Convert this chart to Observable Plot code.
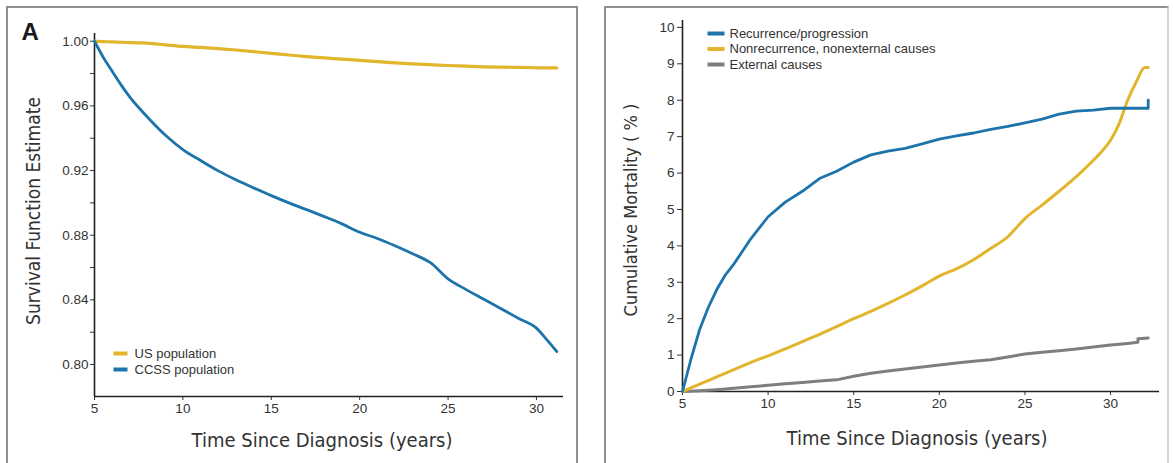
<!DOCTYPE html>
<html><head><meta charset="utf-8">
<script src="https://cdn.jsdelivr.net/npm/d3@7"></script>
<script src="https://cdn.jsdelivr.net/npm/@observablehq/plot@0.6"></script>
<style>
body{margin:0;background:#fff;}
#wrap{position:relative;width:1173px;height:463px;overflow:hidden;background:#fff;}
.panel{position:absolute;top:6px;border:2px solid #8f8f8f;border-bottom:none;box-sizing:border-box;height:470px;}
#p1{left:6px;width:572px;}
#p2{left:604px;width:565px;border-right-color:#d4d4d4;}
.chart{position:absolute;top:0;}
#c1{left:0px;}
#c2{left:590px;}
</style></head><body>
<div id="wrap">
<div class="panel" id="p1"></div><div class="panel" id="p2"></div>
<div class="chart" id="c1"></div><div class="chart" id="c2"></div>
</div>
<script>
// ---------- Panel A data ----------
const leftYears = [5, 5.5, 6, 6.5, 7, 7.5, 8, 9, 10, 11, 12, 13, 14, 15, 16, 17, 18, 19, 20, 21, 22, 23, 24, 25, 26, 27, 28, 29, 30, 30.5, 31, 31.15];
const usPopulation = [1.000, 0.9998, 0.9996, 0.9994, 0.9992, 0.999, 0.9988, 0.9978, 0.9968, 0.9962, 0.9955, 0.9946, 0.9936, 0.9925, 0.9915, 0.9905, 0.9897, 0.989, 0.9882, 0.9874, 0.9866, 0.986, 0.9855, 0.985, 0.9846, 0.9842, 0.984, 0.9838, 0.9836, 0.9835, 0.9835, 0.9835];
const ccssPopulation = [1.000, 0.990, 0.9815, 0.973, 0.9655, 0.959, 0.953, 0.942, 0.933, 0.9262, 0.9198, 0.9143, 0.9093, 0.9045, 0.900, 0.8958, 0.8915, 0.887, 0.8818, 0.878, 0.8735, 0.8685, 0.863, 0.853, 0.8465, 0.8405, 0.8345, 0.8285, 0.8225, 0.8165, 0.810, 0.808];
const leftXTicks = [5, 10, 15, 20, 25, 30];
const leftYTicks = [0.80, 0.82, 0.84, 0.86, 0.88, 0.90, 0.92, 0.94, 0.96, 0.98, 1.00];
const leftYTickLabels = ["0.80", "", "0.84", "", "0.88", "", "0.92", "", "0.96", "", "1.00"];
const leftLegend = ["US population", "CCSS population"];

// ---------- Panel B data ----------
const recurrenceYears = [5, 5.5, 6, 6.5, 7, 7.5, 8, 8.5, 9, 9.5, 10, 11, 12, 13, 14, 15, 16, 17, 18, 19, 20, 21, 22, 23, 24, 25, 26, 27, 28, 29, 30, 31, 32.2, 32.2];
const recurrence = [0, 0.9, 1.7, 2.3, 2.8, 3.2, 3.5, 3.85, 4.2, 4.5, 4.8, 5.2, 5.5, 5.85, 6.05, 6.3, 6.5, 6.6, 6.68, 6.8, 6.93, 7.02, 7.1, 7.2, 7.28, 7.38, 7.48, 7.62, 7.7, 7.73, 7.78, 7.78, 7.78, 8.0];
const nonrecurrenceYears = [5, 6, 7, 8, 9, 10, 11, 12, 13, 14, 15, 16, 17, 18, 19, 20, 21, 22, 23, 24, 24.5, 25, 26, 27, 28, 29, 29.5, 30, 30.5, 31, 31.5, 32, 32.2];
const nonrecurrence = [0, 0.2, 0.4, 0.6, 0.8, 0.98, 1.17, 1.37, 1.57, 1.78, 2.0, 2.2, 2.42, 2.65, 2.9, 3.17, 3.37, 3.62, 3.93, 4.25, 4.5, 4.75, 5.12, 5.5, 5.9, 6.35, 6.6, 6.9, 7.35, 8.0, 8.5, 8.9, 8.9];
const externalYears = [5, 6, 7, 8, 9, 10, 11, 12, 13, 14, 15, 16, 17, 18, 19, 20, 21, 22, 23, 24, 25, 26, 27, 28, 29, 30, 31, 31.6, 31.6, 32.2];
const external = [0, 0.02, 0.05, 0.09, 0.13, 0.17, 0.21, 0.25, 0.29, 0.32, 0.42, 0.5, 0.56, 0.62, 0.67, 0.73, 0.78, 0.83, 0.87, 0.95, 1.03, 1.08, 1.12, 1.17, 1.22, 1.28, 1.32, 1.35, 1.45, 1.47];
const rightXTicks = [5, 10, 15, 20, 25, 30];
const rightYTicks = [0, 1, 2, 3, 4, 5, 6, 7, 8, 9, 10];
const rightLegend = ["Recurrence/progression", "Nonrecurrence, nonexternal causes", "External causes"];

const YELLOW = "#e1b52c", BLUE = "#1c74ab", GRAY = "#7e7e7e";
const TXT = "#333333";
const sansFont = "'Liberation Sans', Arial, sans-serif";
const titleFont = "'DejaVu Sans Condensed', 'Liberation Sans Narrow', sans-serif";

const swatch = (w, h) => ({draw(ctx) {ctx.moveTo(-w/2, -h/2); ctx.lineTo(w/2, -h/2); ctx.lineTo(w/2, h/2); ctx.lineTo(-w/2, h/2); ctx.closePath();}});

function legendMarks(labels, colors, anchor, sx, tx, y0, step, w) {
  const marks = [];
  labels.forEach((lab, i) => {
    marks.push(Plot.dot([lab], {frameAnchor: anchor, dx: sx, dy: y0 + i*step, symbol: swatch(w, 4), fill: colors[i], stroke: "none", r: 3}));
    marks.push(Plot.text([lab], {frameAnchor: anchor, dx: tx, dy: y0 + i*step, text: d => d, textAnchor: "start", lineAnchor: "middle", fill: TXT, fontSize: 13, fontFamily: sansFont}));
  });
  return marks;
}

// ---------- Panel A ----------
const leftDomainY = [0.7802, 1.0048];
const usRows = leftYears.map((t, i) => ({t, v: usPopulation[i]}));
const ccssRows = leftYears.map((t, i) => ({t, v: ccssPopulation[i]}));
const chartA = Plot.plot({
  width: 580, height: 463,
  marginLeft: 94, marginRight: 17, marginTop: 33, marginBottom: 67,
  style: {background: "transparent", fontFamily: sansFont, fontSize: "13px", color: TXT, overflow: "visible"},
  x: {domain: [5, 31.53]},
  y: {domain: leftDomainY},
  marks: [
    Plot.axisY(leftYTicks, {tickSize: 4, tickPadding: 2, fontSize: 13.5, label: null, tickFormat: (d, i) => leftYTickLabels[i]}),
    Plot.axisX(leftXTicks, {tickSize: 4, tickPadding: 3, fontSize: 13.5, label: null}),
    Plot.ruleX([5], {stroke: "#222", strokeWidth: 1.6}),
    Plot.ruleY([leftDomainY[0]], {stroke: "#222", strokeWidth: 1.6}),
    Plot.line(usRows, {x: "t", y: "v", stroke: YELLOW, strokeWidth: 3.2, strokeLinejoin: "round", curve: "monotone-x"}),
    Plot.line(ccssRows, {x: "t", y: "v", stroke: BLUE, strokeWidth: 2.8, strokeLinejoin: "round", curve: "monotone-x"}),
    ...legendMarks(leftLegend, [YELLOW, BLUE], "bottom-left", 26, 40, -43, 16, 14),
    Plot.text(["Time Since Diagnosis (years)"], {frameAnchor: "bottom", dx: -7, dy: 44, lineAnchor: "middle", textAnchor: "middle", fontSize: 20, fontFamily: titleFont, fill: TXT}),
    Plot.text(["Survival Function Estimate"], {frameAnchor: "left", rotate: -90, dx: -61, dy: -4, textAnchor: "middle", lineAnchor: "middle", fontSize: 19, fontFamily: titleFont, fill: TXT}),
    Plot.text(["A"], {frameAnchor: "top-left", dx: -73, dy: 6, textAnchor: "start", lineAnchor: "bottom", fontSize: 24, fontWeight: "bold", fontFamily: sansFont, fill: "#1a1a1a"})
  ]
});
document.getElementById("c1").appendChild(chartA);

// ---------- Panel B ----------
const recRows = recurrenceYears.map((t, i) => ({t, v: recurrence[i]}));
const nonRows = nonrecurrenceYears.map((t, i) => ({t, v: nonrecurrence[i]}));
const extRows = externalYears.map((t, i) => ({t, v: external[i]}));
const chartB = Plot.plot({
  width: 583, height: 463,
  marginLeft: 92, marginRight: 14, marginTop: 20, marginBottom: 72,
  style: {background: "transparent", fontFamily: sansFont, fontSize: "13px", color: TXT, overflow: "visible"},
  x: {domain: [5, 32.86]},
  y: {domain: [0, 10.19]},
  marks: [
    Plot.axisY(rightYTicks, {tickSize: 5, tickPadding: 3, fontSize: 13.5, label: null}),
    Plot.axisX(rightXTicks, {tickSize: 4, tickPadding: 3, fontSize: 13.5, label: null}),
    Plot.ruleX([5], {stroke: "#222", strokeWidth: 1.6}),
    Plot.ruleY([0], {stroke: "#222", strokeWidth: 1.6}),
    Plot.line(extRows, {x: "t", y: "v", stroke: GRAY, strokeWidth: 3, strokeLinejoin: "round"}),
    Plot.line(nonRows, {x: "t", y: "v", stroke: YELLOW, strokeWidth: 3, strokeLinejoin: "round", curve: "monotone-x"}),
    Plot.line(recRows, {x: "t", y: "v", stroke: BLUE, strokeWidth: 2.8, strokeLinejoin: "round"}),
    ...legendMarks(rightLegend, [BLUE, YELLOW, GRAY], "top-left", 33.5, 47, 13, 15.5, 17),
    Plot.text(["Time Since Diagnosis (years)"], {frameAnchor: "bottom", dx: -4, dy: 47, lineAnchor: "middle", textAnchor: "middle", fontSize: 20, fontFamily: titleFont, fill: TXT}),
    Plot.text(["Cumulative Mortality ( % )"], {frameAnchor: "left", rotate: -90, dx: -51, dy: 4, textAnchor: "middle", lineAnchor: "middle", fontSize: 18, fontFamily: titleFont, fill: TXT})
  ]
});
document.getElementById("c2").appendChild(chartB);
</script>
</body></html>
